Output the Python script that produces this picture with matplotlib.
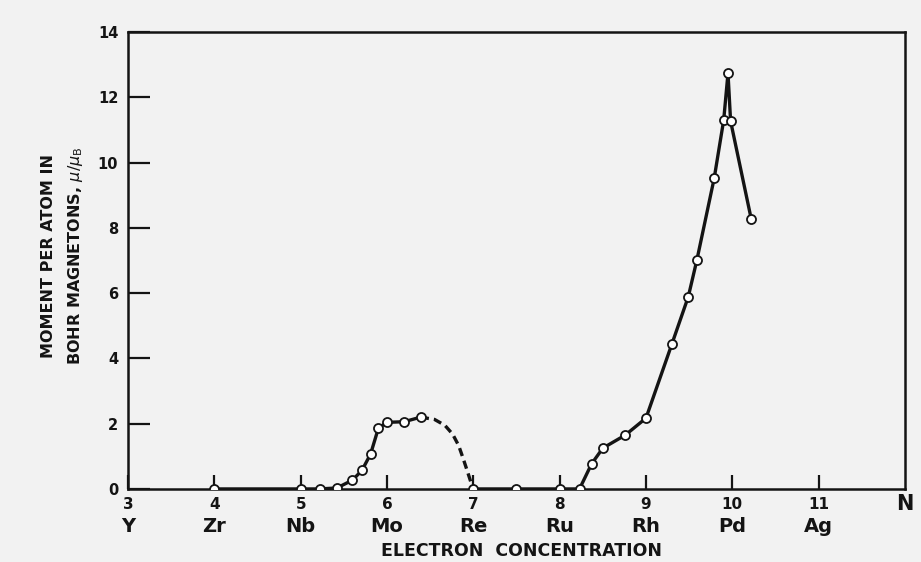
import matplotlib
matplotlib.use("Agg")
import matplotlib.pyplot as plt

# --- Data ---
tick_vals = [3, 4, 5, 6, 7, 8, 9, 10, 11]
elements = ["Y", "Zr", "Nb", "Mo", "Re", "Ru", "Rh", "Pd", "Ag"]

# measured points (open circles)
pts_x = [4.0, 5.0, 5.22, 5.42, 5.6, 5.71, 5.81, 5.9, 6.0, 6.2, 6.39,
         7.0, 7.5, 8.0, 8.23, 8.37, 8.5, 8.76, 9.0, 9.3, 9.49, 9.59,
         9.79, 9.9, 9.95, 9.98, 10.22]
pts_y = [0, 0, 0, 0.03, 0.27, 0.57, 1.07, 1.86, 2.04, 2.06, 2.2,
         0, 0, 0, 0, 0.77, 1.25, 1.65, 2.17, 4.44, 5.89, 7.02,
         9.52, 11.3, 12.74, 11.27, 8.26]

# dashed part of the curve (Mo -> Re)
dash_x = [6.39, 6.55, 6.67, 6.76, 6.83, 6.88, 6.93, 6.97, 7.0]
dash_y = [2.2, 2.13, 1.95, 1.68, 1.33, 0.95, 0.55, 0.22, 0.0]

bg = "#f2f2f2"
ink = "#141414"

fig = plt.figure(figsize=(9.21, 5.62), dpi=100, facecolor=bg)
ax = fig.add_axes([0.139, 0.130, 0.8436, 0.813])
ax.set_facecolor(bg)

# solid curve segments through the points
n1 = 11
ax.plot(pts_x[:n1], pts_y[:n1], color=ink, lw=2.4, zorder=3)
ax.plot(dash_x, dash_y, color=ink, lw=2.4, dashes=(2.5, 1.5), zorder=3)
ax.plot(pts_x[n1:], pts_y[n1:], color=ink, lw=2.4, zorder=3)
ax.plot(pts_x, pts_y, linestyle="none", marker="o", markersize=6.5,
        markerfacecolor="white", markeredgecolor=ink, markeredgewidth=1.3, zorder=4)

ax.set_xlim(3, 12)
ax.set_ylim(0, 14)

for s in ax.spines.values():
    s.set_linewidth(1.8)
    s.set_color(ink)

ax.set_yticks(range(0, 15, 2))
ax.set_xticks(tick_vals)
ax.set_xticklabels([str(v) for v in tick_vals])
ax.tick_params(axis="y", direction="in", length=16, width=1.6, pad=7,
               labelsize=10.5, colors=ink)
ax.tick_params(axis="x", direction="in", length=10, width=1.6, pad=6,
               labelsize=11, colors=ink)
for lab in ax.get_xticklabels() + ax.get_yticklabels():
    lab.set_fontweight("bold")

# element names under the numbers
xt = ax.get_xaxis_transform()
for v, el in zip(tick_vals, elements):
    ax.text(v, -0.082, el, transform=xt, ha="center", va="center",
            fontsize=14, fontweight="bold", color=ink, clip_on=False)
ax.text(12, -0.034, "N", transform=xt, ha="center", va="center",
        fontsize=15, fontweight="bold", color=ink, clip_on=False)

ax.text(0.507, -0.136, "ELECTRON  CONCENTRATION", transform=ax.transAxes,
        ha="center", va="center", fontsize=12.5, fontweight="bold", color=ink)

ax.set_ylabel("MOMENT PER ATOM IN\nBOHR MAGNETONS, $\\mu/\\mu_{\\rm B}$",
              fontsize=11.5, fontweight="bold", color=ink, linespacing=1.7,
              ha="center")
ax.yaxis.set_label_coords(-0.056, 0.51)

fig.savefig("out.png", dpi=100, facecolor=bg)
